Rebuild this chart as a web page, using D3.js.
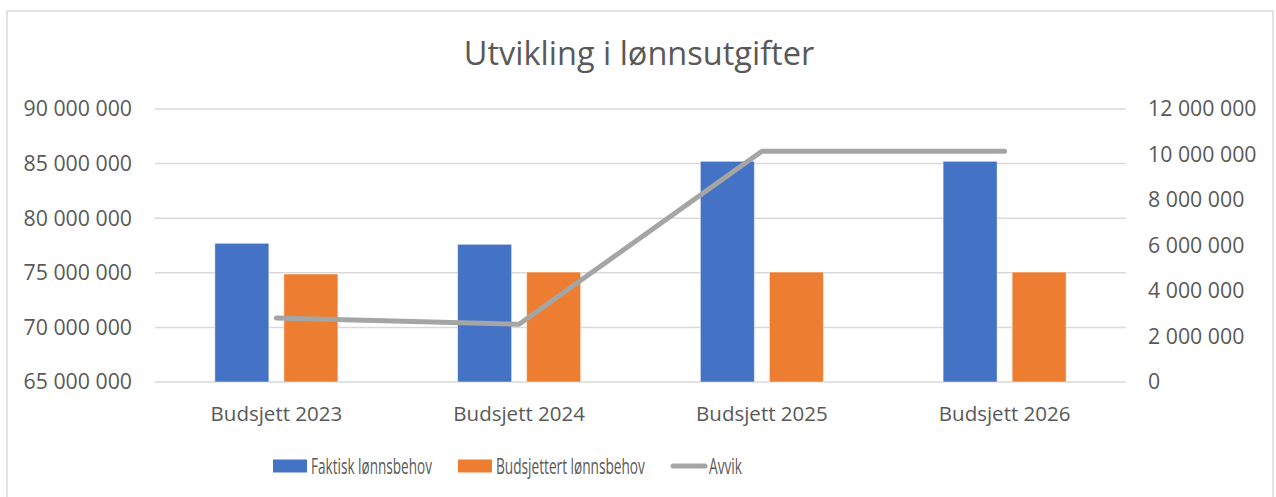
<!DOCTYPE html>
<html>
<head>
<meta charset="utf-8">
<script src="https://cdn.jsdelivr.net/npm/d3@7"></script>
<style>
  body { margin: 0; background: #fff; }
  svg text { font-family: "Open Sans", sans-serif; fill: #595959; }
</style>
</head>
<body>
<script>
// data
var categories = ["Budsjett 2023", "Budsjett 2024", "Budsjett 2025", "Budsjett 2026"];
var faktisk = [77700000, 77610000, 85210000, 85210000];
var budsjettert = [74890000, 75070000, 75070000, 75070000];
var avvik = [2810000, 2540000, 10140000, 10140000];
var leftTicks = [65000000, 70000000, 75000000, 80000000, 85000000, 90000000];
var rightTicks = [0, 2000000, 4000000, 6000000, 8000000, 10000000, 12000000];
var seriesNames = ["Faktisk lønnsbehov", "Budsjettert lønnsbehov", "Avvik"];

// size of the page
var w = 1276;
var h = 497;
var plot = { left: 155, right: 1126, top: 109, bottom: 382 };
var colors = ["#4472C4", "#ED7D31", "#A5A5A5"];

// space formatting like "90 000 000"
function fmt(v) {
	return d3.format(",")(v).replace(/,/g, " ");
}

var svg = d3.select("body")
            .append("svg")
            .attr("width", w)
            .attr("height", h);

// chart border
svg.append("rect")
   .attr("x", 7).attr("y", 11)
   .attr("width", 1266).attr("height", 500)
   .attr("fill", "none")
   .attr("stroke", "#d9d9d9")
   .attr("stroke-width", 1.5);

// title
svg.append("text")
   .attr("x", 639).attr("y", 65)
   .attr("text-anchor", "middle")
   .style("font-size", "32.5px")
   .text("Utvikling i lønnsutgifter");

// scales
var x = d3.scaleBand()
          .domain(categories)
          .range([plot.left, plot.right])
          .padding(0);

var yLeft = d3.scaleLinear()
              .domain([65000000, 90000000])
              .range([plot.bottom, plot.top]);

var yRight = d3.scaleLinear()
               .domain([0, 12000000])
               .range([plot.bottom, plot.top]);

// grid lines
svg.append("g")
   .selectAll("line")
   .data(leftTicks)
   .enter()
   .append("line")
   .attr("x1", plot.left).attr("x2", plot.right)
   .attr("y1", function(d) { return yLeft(d); })
   .attr("y2", function(d) { return yLeft(d); })
   .attr("stroke", "#d9d9d9")
   .attr("stroke-width", 1.5);

// left axis
var leftAxis = d3.axisLeft(yLeft)
                 .tickValues(leftTicks)
                 .tickFormat(fmt)
                 .tickSize(0)
                 .tickPadding(23);
var gl = svg.append("g")
            .attr("transform", "translate(" + plot.left + ",0)")
            .call(leftAxis);
gl.select(".domain").remove();
gl.selectAll("text").style("font-size", "21.3px").attr("fill", "#595959");

// right axis
var rightAxis = d3.axisRight(yRight)
                  .tickValues(rightTicks)
                  .tickFormat(fmt)
                  .tickSize(0)
                  .tickPadding(22);
var gr = svg.append("g")
            .attr("transform", "translate(" + plot.right + ",0)")
            .call(rightAxis);
gr.select(".domain").remove();
gr.selectAll("text").style("font-size", "21.3px").attr("fill", "#595959");

// category axis
var bottomAxis = d3.axisBottom(x).tickSize(0).tickPadding(24);
var gb = svg.append("g")
            .attr("transform", "translate(0," + plot.bottom + ")")
            .call(bottomAxis);
gb.select(".domain").remove();
gb.selectAll("text").style("font-size", "20.5px").attr("fill", "#595959");

// inner scale for the two bars in each group
var groupW = x.bandwidth() * 0.507;
var xs = d3.scaleBand()
           .domain([0, 1])
           .range([-groupW / 2, groupW / 2])
           .paddingInner(0.2174)
           .paddingOuter(0);

var barData = [faktisk, budsjettert];
barData.forEach(function(values, s) {
	svg.append("g")
	   .selectAll("rect")
	   .data(values)
	   .enter()
	   .append("rect")
	   .attr("x", function(d, i) { return x(categories[i]) + x.bandwidth() / 2 + xs(s); })
	   .attr("y", function(d) { return yLeft(d); })
	   .attr("width", xs.bandwidth())
	   .attr("height", function(d) { return plot.bottom - yLeft(d); })
	   .attr("fill", colors[s])
	   .attr("stroke", "#ffffff")
	   .attr("stroke-opacity", 0.5)
	   .attr("stroke-width", 1);
});

// avvik line on the right axis
var line = d3.line()
             .x(function(d, i) { return x(categories[i]) + x.bandwidth() / 2; })
             .y(function(d) { return yRight(d); });

svg.append("path")
   .datum(avvik)
   .attr("d", line)
   .attr("fill", "none")
   .attr("stroke", colors[2])
   .attr("stroke-width", 5)
   .attr("stroke-linecap", "round")
   .attr("stroke-linejoin", "round");

// legend (text squeezed sideways like in the original)
var textWidths = [121, 149, 33];
var lx = 273;
var ly = 466;
seriesNames.forEach(function(name, i) {
	if (i < 2) {
		svg.append("rect")
		   .attr("x", lx).attr("y", ly - 6.5)
		   .attr("width", 34).attr("height", 13)
		   .attr("fill", colors[i]);
	} else {
		svg.append("line")
		   .attr("x1", lx + 2).attr("x2", lx + 34)
		   .attr("y1", ly).attr("y2", ly)
		   .attr("stroke", colors[i])
		   .attr("stroke-width", 5)
		   .attr("stroke-linecap", "round");
	}
	var t = svg.append("text")
	           .attr("x", 0)
	           .attr("y", 0)
	           .style("font-size", "21px")
	           .text(name);
	var sx = textWidths[i] / t.node().getComputedTextLength();
	t.attr("transform", "translate(" + (lx + 38) + "," + (ly + 7.5) + ") scale(" + sx + ",1)");
	lx = lx + 38 + textWidths[i] + 26;
});
</script>
</body>
</html>
